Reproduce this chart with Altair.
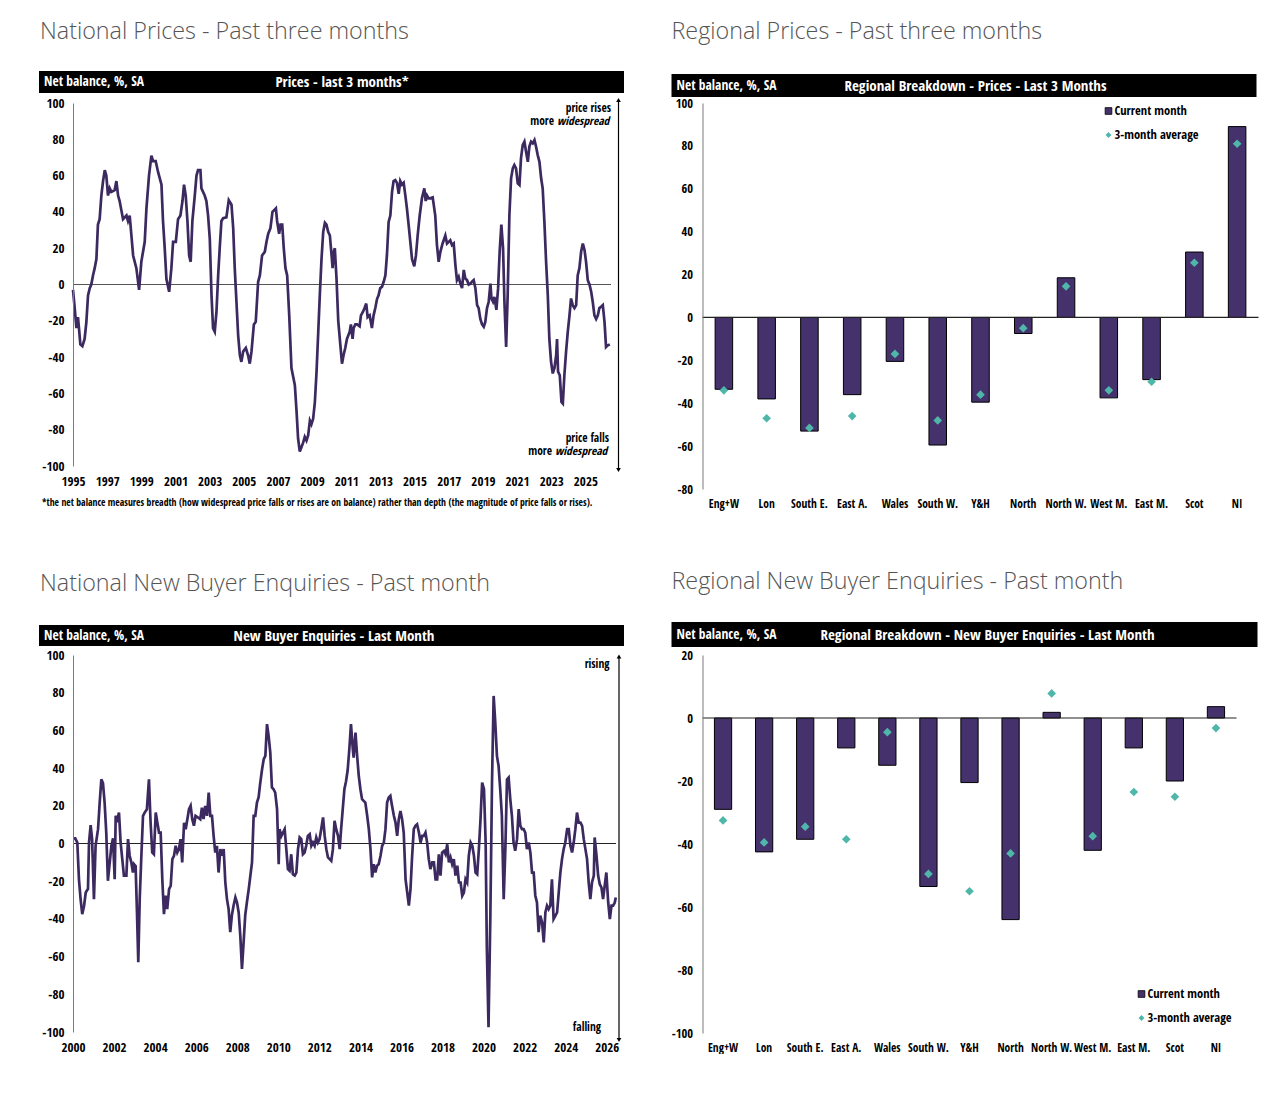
import altair as alt
import pandas as pd

# ---------------------------------------------------------------
# National price balance, last three months (year, net balance %)
# ---------------------------------------------------------------
PRICE_POINTS = [
    (1995.00, -3), (1995.10, -13), (1995.20, -24), (1995.29, -18), (1995.35, -24),
    (1995.43, -33), (1995.55, -34), (1995.68, -30), (1995.78, -21), (1995.88, -6),
    (1995.98, -2), (1996.07, 0), (1996.17, 5), (1996.27, 9), (1996.37, 14),
    (1996.46, 33), (1996.56, 36), (1996.66, 49), (1996.76, 57), (1996.86, 63),
    (1996.95, 60), (1997.05, 49), (1997.15, 53), (1997.25, 51), (1997.44, 52),
    (1997.54, 57), (1997.64, 49), (1997.73, 46), (1997.93, 36), (1998.13, 38),
    (1998.22, 35), (1998.32, 38), (1998.42, 27), (1998.52, 16), (1998.71, 9),
    (1998.87, -3), (1999.00, 12.5), (1999.20, 23.5), (1999.30, 42), (1999.45, 60),
    (1999.59, 71), (1999.69, 68), (1999.84, 68), (1999.98, 62), (2000.18, 55),
    (2000.27, 35), (2000.37, 20), (2000.47, 3), (2000.63, -4), (2000.76, 9),
    (2000.86, 23.5), (2001.02, 23.5), (2001.15, 36), (2001.29, 38), (2001.41, 46),
    (2001.50, 55), (2001.60, 49), (2001.70, 35), (2001.80, 16), (2001.89, 12.5),
    (2001.99, 35), (2002.13, 49), (2002.23, 60), (2002.32, 63), (2002.46, 63),
    (2002.52, 53), (2002.71, 49), (2002.81, 46), (2002.91, 38), (2003.01, 25),
    (2003.11, -6), (2003.20, -24), (2003.30, -26), (2003.40, -15), (2003.50, 5),
    (2003.59, 20), (2003.69, 35), (2003.79, 36.5), (2003.98, 37), (2004.12, 46.5),
    (2004.28, 44), (2004.38, 31), (2004.47, 9), (2004.57, -9.5), (2004.67, -28),
    (2004.77, -39), (2004.86, -42.6), (2004.96, -37), (2005.12, -35), (2005.25, -39),
    (2005.35, -43.6), (2005.45, -37), (2005.59, -22), (2005.70, -20.6), (2005.84, 1.5),
    (2005.94, 5), (2006.07, 16), (2006.23, 18), (2006.33, 23.5), (2006.43, 28),
    (2006.56, 31), (2006.68, 40), (2006.78, 41), (2006.88, 42), (2006.95, 35),
    (2007.07, 28), (2007.15, 33), (2007.25, 33), (2007.34, 20), (2007.44, 9),
    (2007.54, 5), (2007.66, -17), (2007.79, -46), (2007.99, -55.5), (2008.09, -70),
    (2008.18, -85), (2008.28, -92), (2008.38, -89.5), (2008.48, -87), (2008.57, -84),
    (2008.67, -86), (2008.77, -83), (2008.87, -75), (2008.96, -77), (2009.06, -74),
    (2009.16, -65), (2009.26, -48), (2009.36, -26), (2009.45, -6), (2009.55, 14),
    (2009.65, 29), (2009.75, 34), (2009.84, 33), (2009.94, 29), (2010.04, 27),
    (2010.14, 16), (2010.20, 9), (2010.27, 18), (2010.33, 20), (2010.43, 3),
    (2010.53, -20), (2010.65, -33), (2010.75, -43.6), (2010.84, -39), (2010.94, -35),
    (2011.04, -30), (2011.20, -26), (2011.27, -22), (2011.37, -30), (2011.43, -24),
    (2011.53, -22), (2011.63, -22), (2011.78, -23), (2011.86, -17), (2011.98, -15),
    (2012.07, -13), (2012.17, -10.5), (2012.25, -18), (2012.37, -17), (2012.50, -24),
    (2012.60, -17), (2012.70, -13), (2012.80, -8), (2012.89, -6), (2012.99, -2),
    (2013.09, -1.3), (2013.19, 1.5), (2013.29, 5), (2013.38, 16), (2013.48, 34.5),
    (2013.58, 38), (2013.68, 51), (2013.77, 57), (2013.87, 57.5), (2013.97, 56),
    (2014.07, 50), (2014.16, 57), (2014.26, 55), (2014.36, 56), (2014.46, 49),
    (2014.55, 42), (2014.65, 33), (2014.75, 23.5), (2014.85, 14), (2014.98, 10),
    (2015.08, 16), (2015.18, 27), (2015.30, 38), (2015.43, 47.5), (2015.57, 53),
    (2015.65, 46), (2015.73, 49), (2015.82, 47.5), (2015.92, 47.5), (2016.06, 48),
    (2016.21, 38), (2016.31, 21.7), (2016.41, 12.5), (2016.51, 18), (2016.64, 22.6),
    (2016.80, 27), (2016.90, 22.6), (2017.00, 23.5), (2017.09, 24.4), (2017.19, 21.7),
    (2017.29, 22.6), (2017.39, 10.7), (2017.48, 2.4), (2017.58, 4.2), (2017.68, 0.5),
    (2017.78, -2), (2017.88, 8), (2017.97, 3.3), (2018.07, 2.4), (2018.17, 0),
    (2018.27, 0.5), (2018.36, 1.5), (2018.46, 2.4), (2018.56, -2), (2018.66, -11.4),
    (2018.75, -13), (2018.85, -19), (2018.95, -22), (2019.05, -23.3), (2019.14, -20.6),
    (2019.24, -13), (2019.34, -9.5), (2019.44, 0.5), (2019.50, -7.7), (2019.59, -9.5),
    (2019.67, -6.8), (2019.79, -14), (2019.89, -2), (2019.98, 18), (2020.08, 33),
    (2020.18, 20), (2020.26, -9.5), (2020.36, -34.4), (2020.45, -6), (2020.55, 38),
    (2020.65, 58.5), (2020.75, 64), (2020.84, 65.8), (2020.94, 64), (2021.04, 55.7),
    (2021.14, 54.8), (2021.23, 69.5), (2021.33, 76.8), (2021.43, 78.7), (2021.53, 73),
    (2021.63, 67.6), (2021.72, 76), (2021.82, 78.7), (2021.92, 77.8), (2022.02, 79.6),
    (2022.11, 76), (2022.21, 71.3), (2022.31, 67.6), (2022.41, 58.5), (2022.50, 53),
    (2022.60, 34.5), (2022.70, 12.5), (2022.80, -6), (2022.89, -30), (2022.99, -42.6),
    (2023.09, -49), (2023.19, -46), (2023.29, -39), (2023.34, -30), (2023.40, -48),
    (2023.50, -50), (2023.60, -64.7), (2023.68, -65.6), (2023.77, -50), (2023.87, -37),
    (2023.97, -26), (2024.07, -17), (2024.16, -7.7), (2024.26, -11.4), (2024.36, -13),
    (2024.46, -11.4), (2024.55, 5), (2024.65, 9), (2024.75, 18), (2024.85, 22.6),
    (2024.95, 19), (2025.04, 12.5), (2025.14, 2.4), (2025.24, 0), (2025.34, -4),
    (2025.43, -9.5), (2025.53, -17), (2025.63, -19), (2025.73, -17), (2025.82, -13),
    (2025.92, -12.3), (2026.02, -11.4), (2026.12, -20.6), (2026.21, -34.4), (2026.31, -33.5),
    (2026.43, -33),
]

# ---------------------------------------------------------------
# National new buyer enquiries, last month (year, net balance %)
# ---------------------------------------------------------------
ENQUIRY_POINTS = [
    (2000.00, 2.7), (2000.11, 2.7), (2000.21, 0.5), (2000.29, -19), (2000.37, -29.5),
    (2000.45, -37.5), (2000.54, -33), (2000.62, -26), (2000.73, -24), (2000.78, 0.5),
    (2000.86, 9.7), (2000.93, 2.3), (2001.02, -29.5), (2001.10, -1.2), (2001.22, 7.6),
    (2001.30, 21.7), (2001.38, 34), (2001.46, 32), (2001.54, 21.7), (2001.62, 5.8),
    (2001.70, -19.8), (2001.79, -10), (2001.87, -1.2), (2001.95, 2.7), (2002.03, -19),
    (2002.08, 14.7), (2002.16, 12.9), (2002.24, 16.4), (2002.32, 0.5), (2002.40, -8.3),
    (2002.48, -17), (2002.60, -17), (2002.68, 2.3), (2002.76, -6.5), (2002.84, -10),
    (2002.92, -15.4), (2002.97, -11), (2003.05, -12), (2003.12, -38), (2003.18, -63),
    (2003.25, -29.5), (2003.33, -6.5), (2003.41, 14.7), (2003.49, 16.4), (2003.60, 18.2),
    (2003.70, 34), (2003.78, 11), (2003.86, -4.8), (2003.94, -5.7), (2004.03, 16.4),
    (2004.11, 11), (2004.19, 5.8), (2004.27, 5.8), (2004.35, -19), (2004.43, -37.5),
    (2004.51, -27.7), (2004.59, -34.8), (2004.68, -24.2), (2004.76, -22.4), (2004.84, -8.3),
    (2004.92, -6.5), (2005.00, -1.2), (2005.08, -4.8), (2005.16, -3), (2005.24, 2.3),
    (2005.32, -10), (2005.41, 11), (2005.49, 7.6), (2005.57, 12.9), (2005.65, 18.2),
    (2005.73, 20), (2005.81, 12.9), (2005.89, 9.4), (2005.97, 14.7), (2006.09, 13.8),
    (2006.20, 12.9), (2006.28, 19), (2006.36, 12.9), (2006.44, 20), (2006.53, 14.7),
    (2006.61, 27), (2006.69, 14.7), (2006.77, 14.7), (2006.85, 4), (2006.93, -4.8),
    (2007.01, -1.2), (2007.09, -15.4), (2007.18, -3), (2007.26, -6.5), (2007.34, -3),
    (2007.42, -20.7), (2007.50, -29.5), (2007.58, -34.8), (2007.66, -47), (2007.74, -38),
    (2007.82, -33), (2007.91, -28.6), (2007.99, -31.3), (2008.07, -36.6), (2008.15, -49),
    (2008.23, -66.6), (2008.31, -52.5), (2008.39, -38), (2008.47, -31.3), (2008.56, -24.2),
    (2008.64, -17), (2008.72, -10), (2008.80, 14.7), (2008.88, 14.7), (2008.96, 21.7),
    (2009.04, 24.4), (2009.12, 32), (2009.21, 39.4), (2009.29, 44.7), (2009.37, 46.5),
    (2009.45, 63.3), (2009.53, 57), (2009.61, 48.2), (2009.69, 29.7), (2009.77, 28.8),
    (2009.85, 27), (2009.94, 18.2), (2010.02, -11), (2010.06, 7.6), (2010.15, 4),
    (2010.23, 5.8), (2010.31, 7.6), (2010.39, -3), (2010.47, -13.6), (2010.55, -14.5),
    (2010.63, -5.7), (2010.71, -16.3), (2010.80, -17), (2010.88, -15.4), (2010.96, -3),
    (2011.04, 3.2), (2011.12, 2.3), (2011.20, -5.7), (2011.28, -4.8), (2011.36, -1.2),
    (2011.44, 4), (2011.53, 4.9), (2011.61, -1.2), (2011.69, 0.5), (2011.77, -1.2),
    (2011.85, 3.2), (2011.93, 0.5), (2012.01, 2.3), (2012.09, 7.6), (2012.18, 13.8),
    (2012.26, 4), (2012.34, -3), (2012.42, -7.4), (2012.50, -8.3), (2012.58, -9.2),
    (2012.66, -3), (2012.74, 12), (2012.82, 7.6), (2012.91, 4), (2012.99, -3),
    (2013.06, 7.6), (2013.14, 18.2), (2013.22, 28.8), (2013.30, 33), (2013.38, 39),
    (2013.46, 50), (2013.54, 63.3), (2013.63, 50), (2013.67, 45.6), (2013.76, 58.8),
    (2013.84, 46.5), (2013.92, 35.9), (2014.00, 28.8), (2014.08, 23.5), (2014.16, 22.6),
    (2014.24, 21.7), (2014.33, 14.7), (2014.41, 7.6), (2014.49, -3), (2014.57, -18),
    (2014.65, -11), (2014.73, -15.4), (2014.81, -11.8), (2014.89, -11), (2014.98, -6.5),
    (2015.06, -1.2), (2015.14, 0.5), (2015.22, 7.6), (2015.30, 21.7), (2015.38, 24.4),
    (2015.46, 25.3), (2015.54, 20), (2015.63, 14.7), (2015.71, 11.1), (2015.79, 4),
    (2015.87, 12.9), (2015.95, 17.3), (2016.03, 12.9), (2016.11, 5.8), (2016.20, -19),
    (2016.28, -26), (2016.36, -33), (2016.44, -24.2), (2016.52, -6.5), (2016.60, 7.6),
    (2016.68, 9.4), (2016.76, 10.2), (2016.85, 5.8), (2016.93, 0.5), (2017.01, 4),
    (2017.09, 4), (2017.17, 5.8), (2017.25, 0.5), (2017.33, -8.3), (2017.41, -13.6),
    (2017.50, -10), (2017.58, -10), (2017.66, -19), (2017.74, -19), (2017.82, -5.7),
    (2017.90, -17), (2017.98, -4.8), (2018.07, -3.9), (2018.15, -5.7), (2018.23, -0.4),
    (2018.31, -10), (2018.39, -7.4), (2018.47, -11), (2018.55, -8.3), (2018.63, -17),
    (2018.72, -11.8), (2018.80, -20.7), (2018.88, -20.7), (2018.96, -27.7), (2019.04, -26),
    (2019.12, -19), (2019.20, -20.7), (2019.28, -6.5), (2019.37, 0.5), (2019.45, -1.2),
    (2019.53, -6.5), (2019.61, -15.4), (2019.69, -16.3), (2019.77, -3), (2019.85, 12.9),
    (2019.93, 32.3), (2020.02, 28.8), (2020.10, 0.5), (2020.16, -56), (2020.24, -97.5),
    (2020.33, -38.3), (2020.41, 32.3), (2020.49, 78.3), (2020.57, 64), (2020.65, 46.5),
    (2020.73, 41.2), (2020.81, 28.8), (2020.89, 14.7), (2020.98, -29.5), (2021.06, -3),
    (2021.14, 34), (2021.22, 35), (2021.30, 23.5), (2021.38, 14.7), (2021.46, 0.5),
    (2021.54, -3.9), (2021.63, 2.3), (2021.71, 18.2), (2021.79, 9.4), (2021.87, 7.6),
    (2021.95, 7.6), (2022.03, 5.8), (2022.11, -3), (2022.20, 0.5), (2022.28, -4.8),
    (2022.36, -15.4), (2022.44, -15.4), (2022.52, -27.7), (2022.60, -31.3), (2022.68, -47),
    (2022.76, -38.3), (2022.85, -41.9), (2022.93, -52.5), (2023.01, -36.6), (2023.09, -33),
    (2023.17, -34.8), (2023.25, -33), (2023.33, -19), (2023.41, -40.1), (2023.50, -38.3),
    (2023.58, -36.6), (2023.66, -26), (2023.74, -15.4), (2023.82, -8.3), (2023.90, -3),
    (2023.98, 0.5), (2024.07, 7.6), (2024.15, 7.6), (2024.23, -1.2), (2024.31, -4.8),
    (2024.39, 0.5), (2024.47, 7.6), (2024.55, 16.4), (2024.63, 11.1), (2024.72, 11.1),
    (2024.80, 9.4), (2024.88, 2.3), (2024.96, -3), (2025.04, -8.3), (2025.12, -20.7),
    (2025.20, -29.5), (2025.28, -20.7), (2025.37, -17), (2025.41, 3.2), (2025.50, -6.5),
    (2025.58, -17), (2025.66, -21.6), (2025.74, -23.3), (2025.82, -29.5), (2025.90, -22.4),
    (2025.98, -15.4), (2026.07, -31.3), (2026.15, -40.1), (2026.23, -33), (2026.31, -33),
    (2026.39, -31.3), (2026.44, -28.6),
]

# ---------------------------------------------------------------
# Regional breakdowns
# ---------------------------------------------------------------
REGIONS = ["Eng+W", "Lon", "South E.", "East A.", "Wales", "South W.", "Y&H",
           "North", "North W.", "West M.", "East M.", "Scot", "NI"]
PRICE_CURRENT = [-33.5, -38, -53, -36, -20.5, -59.5, -39.5, -7.5, 18.5, -37.5, -29, 30.5, 89]
PRICE_AVG3 = [-34, -47, -51.5, -46, -17, -48, -36, -5, 14.5, -34, -30, 25.5, 81]
ENQ_CURRENT = [-29, -42.5, -38.5, -9.5, -15, -53.5, -20.5, -64, 1.8, -42, -9.5, -20, 3.6]
ENQ_AVG3 = [-32.5, -39.5, -34.5, -38.5, -4.5, -49.5, -55, -43, 7.8, -37.5, -23.5, -25, -3.2]

PRICE_YEAR_TICKS = list(range(1995, 2026, 2))
ENQ_YEAR_TICKS = list(range(2000, 2027, 2))
BALANCE_TICKS = list(range(-100, 101, 20))

# ---------------------------------------------------------------
# Styling
# ---------------------------------------------------------------
NARROW = "Open Sans Condensed, DejaVu Sans Condensed, sans-serif"
HEAD_FONT = "Open Sans"
LINE_COLOR = "#3b2960"
BAR_COLOR = "#45316b"
AVG_COLOR = "#4fb7aa"
TITLE_GREY = "#555555"
PLAIN_LABEL = "toString(datum.value)"

ONE = pd.DataFrame({"k": [0]})


def text(s, x, y, size, color="black", align="left", weight="bold",
         style="normal", font=NARROW, baseline="middle"):
    return alt.Chart(pd.DataFrame({"t": [s]})).mark_text(
        align=align, baseline=baseline, fontSize=size, fontWeight=weight,
        fontStyle=style, font=font, color=color,
    ).encode(x=alt.value(x), y=alt.value(y), text="t:N")


def block(x1, x2, y1, y2, color="black"):
    return alt.Chart(ONE).mark_rect(color=color).encode(
        x=alt.value(x1), x2=alt.value(x2), y=alt.value(y1), y2=alt.value(y2))


def arrow(x, y1, y2):
    shaft = alt.Chart(ONE).mark_rule(color="black", strokeWidth=1.2).encode(
        x=alt.value(x), y=alt.value(y1), y2=alt.value(y2))
    top = alt.Chart(ONE).mark_point(shape="triangle-up", filled=True, color="black",
                                    size=22, opacity=1).encode(x=alt.value(x), y=alt.value(y1))
    bottom = alt.Chart(ONE).mark_point(shape="triangle-down", filled=True, color="black",
                                       size=22, opacity=1).encode(x=alt.value(x), y=alt.value(y2))
    return [shaft, top, bottom]


def header(title, left, right, top, bottom, centre, heading, head_y, section_dx):
    """Grey section heading plus the black banner above a panel."""
    return [
        text(heading, section_dx, head_y, 23.3, color=TITLE_GREY, weight=300,
             font=HEAD_FONT, baseline="alphabetic"),
        block(left, right, top, bottom),
        text("Net balance, %, SA", left + 5, (top + bottom) / 2, 13.5, color="white"),
        text(title, centre, (top + bottom) / 2, 15, color="white", align="center"),
    ]


def y_axis(values, size=13, pad=9):
    return alt.Axis(values=values, domain=True, domainColor="#7a7a7a", domainWidth=1,
                    ticks=False, grid=False, labelFont=NARROW, labelFontWeight="bold",
                    labelFontSize=size, labelColor="black", labelPadding=pad,
                    title=None, labelOverlap=False, labelExpr=PLAIN_LABEL, zindex=1)


def x_year_axis(values):
    return alt.Axis(values=values, domain=False, ticks=False, grid=False,
                    labelFont=NARROW, labelFontWeight="bold", labelFontSize=13,
                    labelColor="black", labelPadding=9, title=None,
                    labelFlush=False, labelOverlap=False, labelExpr=PLAIN_LABEL, zindex=1)


def zero_rule(color, scale, axis):
    return alt.Chart(pd.DataFrame({"v": [0]})).mark_rule(color=color, strokeWidth=1.2).encode(
        y=alt.Y("v:Q", scale=scale, axis=axis))


# ---------------------------------------------------------------
# Panel 1: national prices line
# ---------------------------------------------------------------
price_df = pd.DataFrame(PRICE_POINTS, columns=["year", "balance"])
W1, H1 = 538, 363
bal_scale = alt.Scale(domain=[-100, 100], nice=False)

price_line = alt.Chart(price_df).mark_line(color=LINE_COLOR, strokeWidth=2.7).encode(
    x=alt.X("year:Q", scale=alt.Scale(domain=[1995, 2026.5], nice=False, zero=False),
            axis=x_year_axis(PRICE_YEAR_TICKS)),
    y=alt.Y("balance:Q", scale=bal_scale, axis=y_axis(BALANCE_TICKS)),
)

panel1 = alt.layer(
    # one white pixel in the page's top-left corner keeps the page origin fixed
    block(-73, -72, -103, -102, color="white"),
    *header("Prices - last 3 months*", -34, 551, -32, -10, 269,
            "National Prices - Past three months", -64, -33),
    zero_rule("#555555", bal_scale, y_axis(BALANCE_TICKS)),
    price_line,
    *arrow(545.5, -3, 367),
    text("price rises", 538, 5.5, 11.5, align="right"),
    text("more", 481, 19, 11.5, align="right"),
    text("widespread", 484, 19, 11.5, style="italic"),
    text("price falls", 536, 335.5, 11.5, align="right"),
    text("more", 479, 349, 11.5, align="right"),
    text("widespread", 482, 349, 11.5, style="italic"),
    text("*the net balance measures breadth (how widespread price falls or rises are on balance)  "
         "rather than depth (the magnitude of price falls or rises).", -31, 400, 9.7),
).properties(width=W1, height=H1)

# ---------------------------------------------------------------
# Panel 2: regional prices bars
# ---------------------------------------------------------------
reg_price_df = pd.DataFrame({"region": REGIONS, "current": PRICE_CURRENT, "avg3": PRICE_AVG3})
W2, H2 = 556, 386


def region_x(pad_inner):
    return alt.X("region:N", sort=REGIONS,
                 scale=alt.Scale(paddingInner=pad_inner, paddingOuter=pad_inner / 2),
                 axis=alt.Axis(labelAngle=0, domain=False, ticks=False, grid=False,
                               labelFont=NARROW, labelFontWeight="bold", labelFontSize=11.5,
                               labelColor="black", labelPadding=9, title=None,
                               labelOverlap=False, zindex=1))


def legend(x, y):
    return [
        alt.Chart(ONE).mark_point(shape="square", filled=True, color=BAR_COLOR, size=45,
                                  opacity=1, stroke="black", strokeWidth=0.8).encode(
            x=alt.value(x), y=alt.value(y)),
        text("Current month", x + 6, y, 12.5),
        alt.Chart(ONE).mark_point(shape="diamond", filled=True, color=AVG_COLOR, size=34,
                                  opacity=1).encode(x=alt.value(x), y=alt.value(y + 24)),
        text("3-month average", x + 6, y + 24, 12.5),
    ]


def bar_panel(df, domain, ticks, pad_inner):
    x = region_x(pad_inner)
    y_scale = alt.Scale(domain=domain, nice=False)
    axis = y_axis(ticks, size=12.5, pad=10)
    bars = alt.Chart(df).mark_bar(color=BAR_COLOR, stroke="black", strokeWidth=1).encode(
        x=x, y=alt.Y("current:Q", scale=y_scale, axis=axis))
    dots = alt.Chart(df).mark_point(shape="diamond", filled=True, color=AVG_COLOR,
                                    size=75, opacity=1).encode(
        x=x, y=alt.Y("avg3:Q", scale=y_scale, axis=axis))
    rule = zero_rule("#222222", y_scale, axis)
    return bars, rule, dots


bars2, rule2, dots2 = bar_panel(reg_price_df, [-80, 100], list(range(-80, 101, 20)), 0.59)
panel2 = alt.layer(
    *header("Regional Breakdown - Prices - Last 3 Months", -31, 554, -29, -6, 273,
            "Regional Prices - Past three months", -64, -31),
    bars2,
    rule2,
    dots2,
    *legend(406, 8),
).properties(width=W2, height=H2)

# ---------------------------------------------------------------
# Panel 3: national new buyer enquiries line
# ---------------------------------------------------------------
enq_df = pd.DataFrame(ENQUIRY_POINTS, columns=["year", "balance"])
W3, H3 = 543, 377

enq_line = alt.Chart(enq_df).mark_line(color=LINE_COLOR, strokeWidth=2.7).encode(
    x=alt.X("year:Q", scale=alt.Scale(domain=[2000, 2026.45], nice=False, zero=False),
            axis=x_year_axis(ENQ_YEAR_TICKS)),
    y=alt.Y("balance:Q", scale=bal_scale, axis=y_axis(BALANCE_TICKS)),
)

panel3 = alt.layer(
    *header("New Buyer Enquiries - Last Month", -34, 551, -30, -9, 261,
            "National New Buyer Enquiries - Past month", -64, -33),
    zero_rule("#222222", bal_scale, y_axis(BALANCE_TICKS)),
    enq_line,
    *arrow(546, 1.5, 385),
    text("rising", 536.5, 9.5, 11.5, align="right"),
    text("falling", 528, 373, 11.5, align="right"),
).properties(width=W3, height=H3)

# ---------------------------------------------------------------
# Panel 4: regional new buyer enquiries bars
# ---------------------------------------------------------------
reg_enq_df = pd.DataFrame({"region": REGIONS, "current": ENQ_CURRENT, "avg3": ENQ_AVG3})
W4, H4 = 534, 378

bars4, rule4, dots4 = bar_panel(reg_enq_df, [-100, 20], list(range(-100, 21, 20)), 0.58)
panel4 = alt.layer(
    *header("Regional Breakdown - New Buyer Enquiries - Last Month", -31, 555, -33, -8, 285,
            "Regional New Buyer Enquiries - Past month", -66, -31),
    bars4,
    rule4,
    dots4,
    *legend(439, 339),
).properties(width=W4, height=H4)

# ---------------------------------------------------------------
# Assemble the 2 x 2 grid
# ---------------------------------------------------------------
chart = alt.concat(
    panel1, panel2, panel3, panel4, columns=2,
    spacing={"row": 166, "column": 86.5}, bounds="flush",
).properties(
    padding=0,
    background="white",
).configure_view(stroke=None)

chart.save("out.html", embed_options={"renderer": "svg", "actions": False})
